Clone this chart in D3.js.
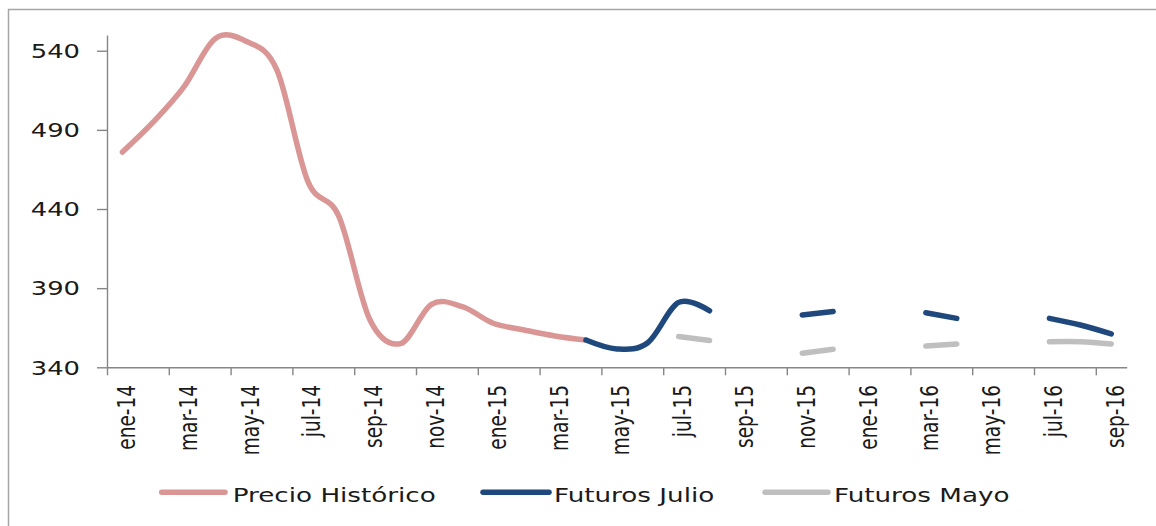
<!DOCTYPE html>
<html>
<head>
<meta charset="utf-8">
<script src="https://cdn.jsdelivr.net/npm/d3@7"></script>
<style>
  body { margin: 0; background: #fff; }
  svg { display: block; }
  text { font-family: "DejaVu Sans", Verdana, sans-serif; fill: #1a1a1a; }
</style>
</head>
<body>
<div id="chart"></div>
<script>
(function(){ 'use strict';

    // categorias (meses)
    var categories = ['ene-14','feb-14','mar-14','abr-14','may-14','jun-14','jul-14','ago-14','sep-14','oct-14','nov-14','dic-14',
                      'ene-15','feb-15','mar-15','abr-15','may-15','jun-15','jul-15','ago-15','sep-15','oct-15','nov-15','dic-15',
                      'ene-16','feb-16','mar-16','abr-16','may-16','jun-16','jul-16','ago-16','sep-16'];

    var precioHistorico = [476, 495, 517.5, 547.6, 546, 527.8, 457.5, 435.5, 370.4, 355, 379.8, 378.3,
                           367.8, 363.6, 359.8, 357.2, null, null, null, null, null, null, null, null,
                           null, null, null, null, null, null, null, null, null];

    var futurosJulio = [null, null, null, null, null, null, null, null, null, null, null, null,
                        null, null, null, 357.2, 351.6, 355.5, 381, 375.7, null, null, 373.1, 375.2,
                        null, null, 374.5, 370.9, null, null, 370.9, 366.7, 361.1];

    var futurosMayo = [null, null, null, null, null, null, null, null, null, null, null, null,
                       null, null, null, null, null, null, 359.4, 356.9, null, null, 348.9, 351.4,
                       null, null, 353.4, 354.7, null, null, 356.2, 356.2, 354.7];

    var yTicks = [340, 390, 440, 490, 540];
    var xLabelIdx = d3.range(0, categories.length, 2);

    var series = [
        {name: 'Precio Histórico', values: precioHistorico, color: '#d99694'},
        {name: 'Futuros Julio',    values: futurosJulio,    color: '#1f497d'},
        {name: 'Futuros Mayo',     values: futurosMayo,     color: '#bfbfbf'}
    ];

    var width = 1156,
        height = 526,
        stretch = 1.36;

    var svg = d3.select('#chart').append('svg')
        .attr('width', width).attr('height', height);

    // marco exterior (cortado por la derecha y abajo)
    svg.append('rect')
        .attr('x', 8.5).attr('y', 9.5)
        .attr('width', width + 20).attr('height', height + 20)
        .attr('fill', 'none').attr('stroke', '#a6a6a6').attr('stroke-width', 1.5);

    var plot = {left: 107, right: 1126.7, top: 34.9, bottom: 367.3};

    var x = d3.scaleLinear().domain([0, categories.length]).range([plot.left, plot.right]);
    var y = d3.scaleLinear().domain([340, 550]).range([plot.bottom, plot.top]);
    var cx = function(i){ return x(i + 0.5); };

    // eje Y
    var yAxis = svg.append('g').attr('transform', 'translate(' + plot.left + ',0)')
        .call(d3.axisLeft(y).tickValues(yTicks).tickSize(10).tickSizeOuter(0).tickFormat(''));
    yAxis.selectAll('path, line').attr('stroke', '#868686').attr('stroke-width', 1.4);

    svg.selectAll('text.ylab').data(yTicks).enter().append('text')
        .attr('class', 'ylab')
        .attr('text-anchor', 'end')
        .attr('font-size', 19)
        .attr('transform', function(d){ return 'translate(80,' + (y(d) + 7.3) + ')scale(' + stretch + ',1)'; })
        .text(function(d){ return d; });

    // eje X
    var xAxis = svg.append('g').attr('transform', 'translate(0,' + plot.bottom + ')')
        .call(d3.axisBottom(x).tickValues(xLabelIdx).tickSize(8).tickSizeOuter(0).tickFormat(''));
    xAxis.selectAll('path, line').attr('stroke', '#868686').attr('stroke-width', 1.4);

    svg.selectAll('text.xlab').data(xLabelIdx).enter().append('text')
        .attr('class', 'xlab')
        .attr('text-anchor', 'end')
        .attr('font-size', 18.5)
        .attr('transform', function(i){ return 'translate(' + (cx(i) + 12.5) + ',385)scale(1.34,1)rotate(-90)'; })
        .text(function(i){ return categories[i]; });

    // lineas
    var line = d3.line()
        .defined(function(d){ return d != null; })
        .x(function(d, i){ return cx(i); })
        .y(function(d){ return y(d); })
        .curve(d3.curveCatmullRom.alpha(0));

    svg.selectAll('path.serie').data(series).enter().append('path')
        .attr('class', 'serie')
        .attr('d', function(s){ return line(s.values); })
        .attr('fill', 'none')
        .attr('stroke', function(s){ return s.color; })
        .attr('stroke-width', 5.5)
        .attr('stroke-linecap', 'round')
        .attr('stroke-linejoin', 'round');

    // leyenda
    var legendPos = [{x1: 161.7, x2: 225, tx: 232.7},
                     {x1: 483, x2: 549, tx: 554},
                     {x1: 765, x2: 828, tx: 834}];
    var legend = svg.selectAll('g.legend').data(series).enter().append('g')
        .attr('class', 'legend');
    legend.append('line')
        .attr('x1', function(s, i){ return legendPos[i].x1; })
        .attr('x2', function(s, i){ return legendPos[i].x2; })
        .attr('y1', 492.3).attr('y2', 492.3)
        .attr('stroke', function(s){ return s.color; })
        .attr('stroke-width', 5.5)
        .attr('stroke-linecap', 'round');
    legend.append('text')
        .attr('font-size', 19)
        .attr('transform', function(s, i){ return 'translate(' + legendPos[i].tx + ',502.3)scale(1.38,1)'; })
        .text(function(s){ return s.name; });

})();
</script>
</body>
</html>
